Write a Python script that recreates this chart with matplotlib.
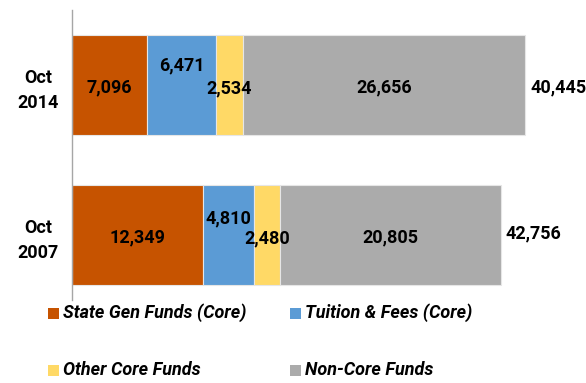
import matplotlib
matplotlib.use("Agg")
import matplotlib.pyplot as plt
from matplotlib.patches import Rectangle

# Data
categories = ["Oct\n2007", "Oct\n2014"]
series_names = ["State Gen Funds (Core)", "Tuition & Fees (Core)",
                "Other Core Funds", "Non-Core Funds"]
state_gen = [12349, 7096]
tuition = [4810, 6471]
other_core = [2480, 2534]
non_core = [20805, 26656]
total_labels = ["42,756", "40,445"]

colors = ["#C65300", "#5B9BD5", "#FFD966", "#ABABAB"]
FONT = ["Roboto", "DejaVu Sans"]
FS = 13

W, H = 586, 383
fig = plt.figure(figsize=(W / 100, H / 100), dpi=100)
# axes: left edge at x=72 px, spine from y=10 to y=300 px
ax = fig.add_axes([72 / W, (H - 300) / H, 500 / W, 290 / H])

series = [state_gen, tuition, other_core, non_core]
ypos = [0, 1]
bar_h = 0.667
left = [0, 0]
# vertical nudges (pixels) for the value labels, per series and category
nudges = [[-2, -2], [17, 20], [-3, -3], [-2, -2]]
for s_idx, (vals, col) in enumerate(zip(series, colors)):
    ax.barh(ypos, vals, left=left, height=bar_h, color=col,
            edgecolor="#E6E6E6", linewidth=0.8)
    for i, v in enumerate(vals):
        ax.annotate(f"{v:,}", xy=(left[i] + v / 2, ypos[i]),
                    xytext=(0, nudges[s_idx][i]), textcoords="offset pixels",
                    ha="center", va="center", fontsize=FS,
                    fontweight="bold", family=FONT, color="black")
    left = [l + v for l, v in zip(left, vals)]

# totals beside each bar
total_nudge = [2, -2]
for i, lab in enumerate(total_labels):
    ax.annotate(lab, xy=(left[i], ypos[i]), xytext=(5, total_nudge[i]),
                textcoords="offset pixels", ha="left", va="center",
                fontsize=FS, fontweight="bold", family=FONT, color="black")

ax.set_xlim(0, 500 / 0.010595)
ax.set_ylim(-0.433, 1.5)
ax.set_yticks(ypos)
ax.set_yticklabels(categories, fontsize=FS, fontweight="bold", family=FONT,
                   linespacing=1.5)
ax.tick_params(axis="y", length=0, pad=24.5)
for lbl in ax.get_yticklabels():
    lbl.set_horizontalalignment("center")
ax.set_xticks([])
for side in ["top", "right", "bottom"]:
    ax.spines[side].set_visible(False)
ax.spines["left"].set_color("#A6A6A6")
ax.spines["left"].set_linewidth(1.0)

# legend: two rows of two entries, square swatch followed by italic label
legend_cols = [48, 290]     # swatch left edge, px
legend_rows = [313, 370]    # row centre, px
sw = 11
for k, (name, col) in enumerate(zip(series_names, colors)):
    x0 = legend_cols[k % 2]
    yc = legend_rows[k // 2]
    fig.patches.append(Rectangle((x0 / W, (H - yc - sw / 2) / H), sw / W, sw / H,
                                 transform=fig.transFigure, facecolor=col,
                                 edgecolor="none"))
    fig.text((x0 + sw + 4) / W, (H - yc) / H, name, ha="left", va="center",
             fontsize=FS, fontweight="bold", style="italic", family=FONT,
             color="black")

fig.savefig("out.png", dpi=100)
